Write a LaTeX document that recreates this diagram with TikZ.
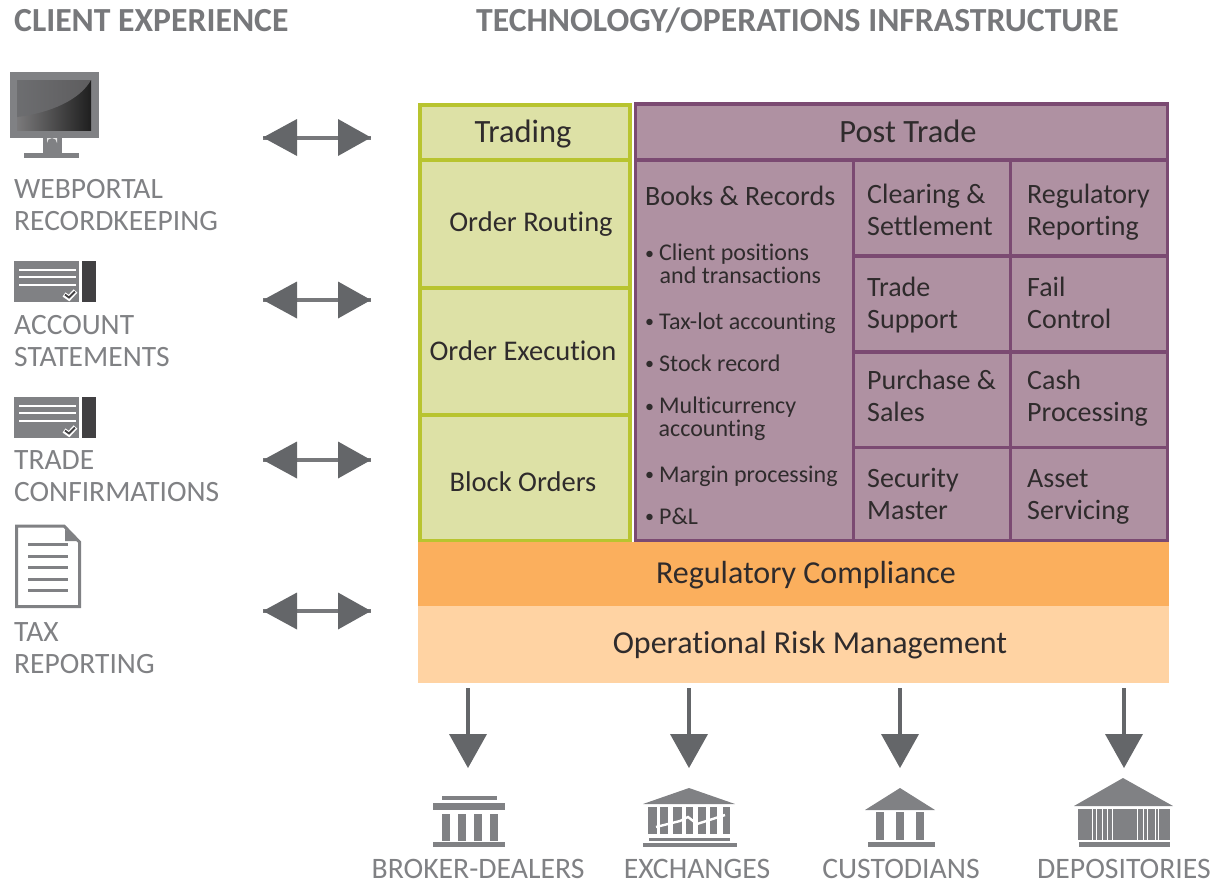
\documentclass[tikz,border=0pt]{standalone}
\usepackage{fontspec}
\setmainfont[Ligatures=NoCommon]{Carlito}
\definecolor{txt}{HTML}{2F2B2C}
\definecolor{gry}{HTML}{808184}
\definecolor{hd}{HTML}{77787B}
\definecolor{arrowg}{HTML}{646669}
\definecolor{shaft}{HTML}{77787B}
\definecolor{lgreen}{HTML}{DDE1A6}
\definecolor{dgreen}{HTML}{B8C42F}
\definecolor{lpurple}{HTML}{AF91A2}
\definecolor{dpurple}{HTML}{7B4A72}
\definecolor{orng}{HTML}{FBAF5D}
\definecolor{peach}{HTML}{FFD3A3}
\definecolor{dark}{HTML}{414042}
\newcommand{\bul}{\makebox[14pt][l]{\raisebox{1.5pt}{\fontsize{18}{18}\selectfont •}}}
\tikzset{
  gcell/.style={draw=dgreen,line width=4pt,fill=lgreen},
  pcell/.style={draw=dpurple,line width=3.5pt,fill=lpurple},
  title/.style={text=txt,font=\fontsize{32.5}{36}\selectfont,anchor=base,inner sep=0pt},
  gtext/.style={text=txt,font=\fontsize{28.5}{32}\selectfont,anchor=base,inner sep=0pt},
  band/.style={text=txt,font=\fontsize{32}{36}\selectfont,anchor=base,inner sep=0pt},
  ptext/.style={text=txt,font=\fontsize{28}{32}\selectfont,align=left,anchor=base west,inner sep=0pt},
  btext/.style={text=txt,font=\fontsize{24}{22.5}\selectfont,align=left,anchor=base west,inner sep=0pt},
  lbl/.style={text=gry,font=\fontsize{29.5}{32}\selectfont,align=left,anchor=base west,inner sep=0pt},
  blbl/.style={text=gry,font=\fontsize{29.7}{32}\selectfont,anchor=base,inner sep=0pt},
  head/.style={text=hd,font=\bfseries\fontsize{33.7}{36}\selectfont,anchor=base west,inner sep=0pt},
  shaftline/.style={draw=shaft,line width=4pt},
}
\begin{document}
\begin{tikzpicture}[x=1pt,y=-1pt]
\useasboundingbox (0,0) rectangle (1213,881);
\node[head] (h1) at (14,31) {CLIENT EXPERIENCE};
\node[head] (h2) at (476,31) {TECHNOLOGY/OPERATIONS INFRASTRUCTURE};

% green
\draw[gcell] (419.6,104.5) rectangle (630,160);
\draw[gcell] (419.6,160) rectangle (630,287.5);
\draw[gcell] (419.6,287.5) rectangle (630,415);
\draw[gcell] (419.6,415) rectangle (630,541);
\node[title] (t1) at (523,142) {Trading};
\node[gtext] (t2) at (531,231) {Order Routing};
\node[gtext] (t3) at (523,360) {Order Execution};
\node[gtext] (t4) at (523,491) {Block Orders};

% purple
\draw[pcell] (635.6,104) rectangle (1167.7,160);
\draw[pcell] (635.6,160) rectangle (853.3,541);
\foreach \a/\b in {160/256,256/351.8,351.8/447.7,447.7/541}{
  \draw[pcell] (853.3,\a) rectangle (1010.7,\b);
  \draw[pcell] (1010.7,\a) rectangle (1167.7,\b);
}
\node[title] (t5) at (908,142) {Post Trade};
\node[ptext] (c0) at (645,205) {Books \& Records};
\node[btext] (b1a) at (645,283) {\bul Client positions\\\hspace*{14.5pt}and transactions};
\node[btext] (b2a) at (645,329) {\bul Tax-lot accounting};
\node[btext] (b3a) at (645,371) {\bul Stock record};
\node[btext] (b4a) at (645,436) {\bul Multicurrency\\\hspace*{13.5pt}accounting};
\node[btext] (b5a) at (645,482) {\bul Margin processing};
\node[btext] (b6a) at (645,524) {\bul P\&L};
\node[ptext] (c1) at (867,235) {Clearing \&\\Settlement};
\node[ptext] (c2) at (1027,235) {Regulatory\\Reporting};
\node[ptext] (c3) at (867,328) {Trade\\Support};
\node[ptext] (c4) at (1027,328) {Fail\\Control};
\node[ptext] (c5) at (867,421) {Purchase \&\\Sales};
\node[ptext] (c6) at (1027,421) {Cash\\Processing};
\node[ptext] (c7) at (867,519) {Security\\Master};
\node[ptext] (c8) at (1027,519) {Asset\\Servicing};

% bands
\fill[peach] (418,606) rectangle (1169,682.7);
\fill[orng] (418,542.3) rectangle (1169,606);
\node[band] (rc) at (806,583) {Regulatory Compliance};
\node[band] (orm) at (810,653.5) {Operational Risk Management};

% double arrows
\foreach \n/\y in {a/137.5,b/300,c/460,d/611}{
  \coordinate (\n l) at (263,\y);
  \coordinate (\n r) at (371,\y);
  \draw[shaftline] (\n l) -- (\n r);
  \fill[arrowg] (\n l) -- ++(34,-18.5) -- ++(0,37) -- cycle;
  \fill[arrowg] (\n r) -- ++(-33,-18.5) -- ++(0,37) -- cycle;
}
% down arrows
\foreach \n/\x in {e/468,f/689,g/900,h/1124}{
  \coordinate (\n t) at (\x,688);
  \coordinate (\n b) at (\x,768);
  \draw[shaftline,draw=arrowg] (\n t) -- (\x,740);
  \fill[arrowg] (\n b) -- ++(-19,-34) -- ++(38,0) -- cycle;
}

% monitor
\fill[gry] (10,72) rectangle (99,138);
\shade[left color=dark!70,right color=black!88] (17,80) rectangle (91,130);
\shade[left color=gry!85!black,right color=dark!85] (17,80) -- (91,80) .. controls (80,100) and (50,113) .. (17,117) -- cycle;
\fill[gry] (43,138) rectangle (62,153);
\fill[gray!20] (47,138) -- (57,138) -- (57,143) arc (0:-180:5) -- cycle;
\fill[gry] (24,153) rectangle (79,158);
% statement icons
\foreach \y in {261,397}{
  \fill[gry] (13.5,\y) rectangle (79,\y+41);
  \fill[dark] (82,\y) rectangle (96,\y+41);
  \foreach \d in {9,16,24}{\fill[white] (19,\y+\d-1) rectangle (75.5,\y+\d+1);}
  \draw[white,line width=5pt] (64,\y+33.5) -- (69,\y+37) -- (75.5,\y+30);
  \draw[dark,line width=1.8pt] (65,\y+33.5) -- (69,\y+36.5) -- (75,\y+30.5);
}
% doc
\draw[gry,line width=3pt,fill=white,line join=miter] (16.5,526) -- (64,526) -- (79.5,542) -- (79.5,606.5) -- (16.5,606.5) -- cycle;
\fill[gry] (65,529) -- (79,541) -- (65,541) -- cycle;
\foreach \y in {544.5,556,567.5,579,590.5}{\fill[gry] (28,\y-1.5) rectangle (68,\y+1.5);}

% left labels
\node[lbl] (l1) at (14,230) {WEBPORTAL\\RECORDKEEPING};
\node[lbl] (l2) at (14,366) {ACCOUNT\\STATEMENTS};
\node[lbl] (l3) at (14,501) {TRADE\\CONFIRMATIONS};
\node[lbl] (l4) at (14,673) {TAX\\REPORTING};

% broker
\fill[gry] (442,796) rectangle (497,800);
\fill[gry] (433,803) rectangle (505,810);
\foreach \x in {441.7,457.5,474,490}{\fill[gry] (\x,814) rectangle +(8,27);}
\fill[gry] (433,842) rectangle (505,847);
% exchanges
\fill[gry] (643,804) -- (689,788) -- (735,804) -- cycle;
\foreach \a/\b in {648/657,660/668,673/682,686/693,698/706,710/717,723/730}{\fill[gry] (\a,807) rectangle (\b,834);}
\draw[white,line width=2.4pt] (656,827) -- (680,821) -- (688,817) -- (697,824) -- (725,815);
\fill[gry] (649,838) rectangle (730,841);
\fill[gry] (643,843) rectangle (737,847);
% custodians
\fill[gry] (865,810) -- (900,788) -- (935,810) -- cycle;
\foreach \x in {876,896,916}{\fill[gry] (\x,812) rectangle +(8,28);}
\fill[gry] (868,842) rectangle (935,847);
% depositories
\fill[gry] (1074,806) -- (1123,778) -- (1173,806) -- cycle;
\fill[gry] (1078,809) rectangle (1170,840);
\foreach \x in {1091.5,1096,1102,1107,1112,1137,1143,1147,1155,1158}{\fill[white] (\x,809) rectangle +(1,31);}
\fill[gry] (1079,842) rectangle (1170,847);

% bottom labels
\node[blbl] (bb1) at (478,878) {BROKER-DEALERS};
\node[blbl] (bb2) at (697,878) {EXCHANGES};
\node[blbl] (bb3) at (901,878) {CUSTODIANS};
\node[blbl] (bb4) at (1124,878) {DEPOSITORIES};
\end{tikzpicture}
\end{document}
